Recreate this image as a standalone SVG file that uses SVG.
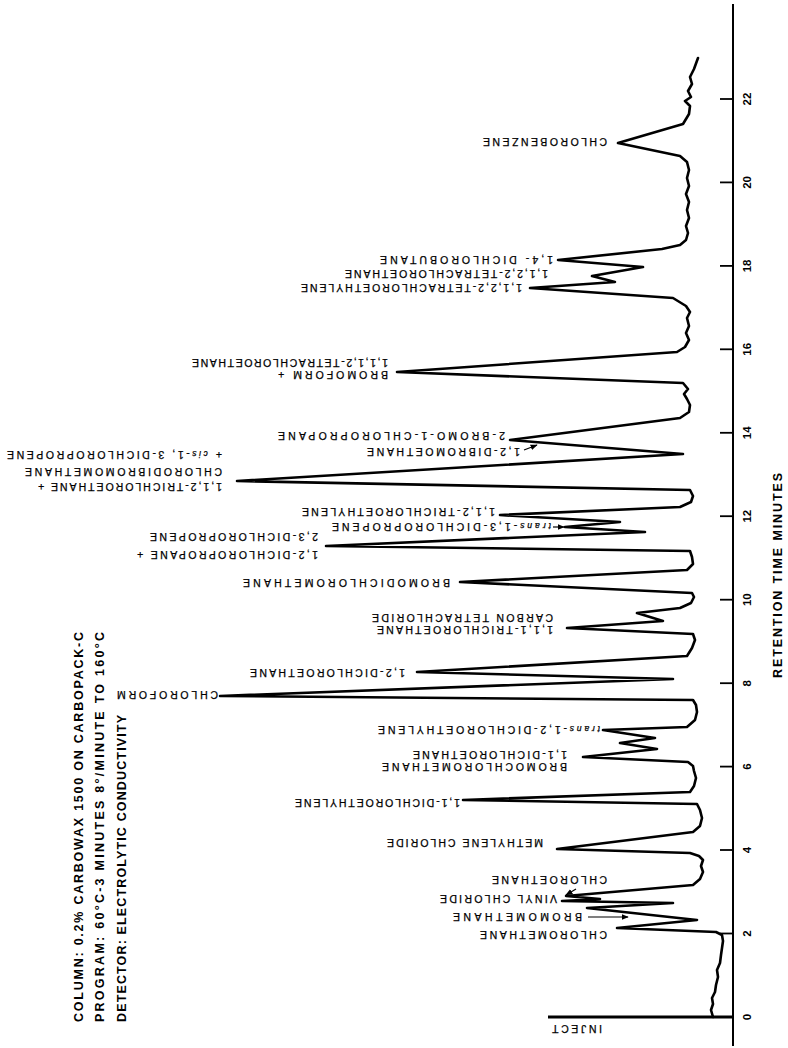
<svg xmlns="http://www.w3.org/2000/svg" width="788" height="1048" viewBox="0 0 788 1048">
  <style>
    .lb { font-family: "Liberation Sans", Arial, sans-serif; font-size: 10.5px; fill: #000; stroke: #000; stroke-width: 0.25px; }
    .it { font-style: italic; font-size: 8.5px; }
    .hd { font-family: "Liberation Sans", Arial, sans-serif; font-size: 12.5px; font-weight: bold; fill: #000; }
    .tk { font-family: "Liberation Sans", Arial, sans-serif; font-size: 11.5px; font-weight: bold; fill: #000; text-anchor: middle; }
    .ax { stroke: #000; stroke-width: 2; fill: none; }
    .tick { stroke: #000; stroke-width: 1.8; }
    .trace { stroke: #000; stroke-width: 2.6; fill: none; stroke-linejoin: round; stroke-linecap: round; }
    .lead { stroke: #000; stroke-width: 1.2; fill: none; }
  </style>
  <defs>
    <marker id="ah" viewBox="0 0 10 10" refX="9" refY="5" markerWidth="6" markerHeight="6" orient="auto">
      <path d="M0,1 L10,5 L0,9 Z" fill="#000"/>
    </marker>
  </defs>
  <rect width="788" height="1048" fill="#fff"/>

  <!-- conditions block, printed sideways -->
  <g id="conditions">
    <text class="hd" transform="translate(83,1022) rotate(-90)" textLength="390" lengthAdjust="spacing">COLUMN: 0.2% CARBOWAX 1500  ON CARBOPACK-C</text>
    <text class="hd" transform="translate(104,1022) rotate(-90)" textLength="390" lengthAdjust="spacing">PROGRAM:  60°C-3 MINUTES 8°/MINUTE TO 160°C</text>
    <text class="hd" transform="translate(126,1022) rotate(-90)" textLength="307" lengthAdjust="spacing">DETECTOR:  ELECTROLYTIC CONDUCTIVITY</text>
  </g>

  <!-- time axis -->
  <g id="axis">
    <line class="ax" x1="733" y1="4" x2="733" y2="1046"/>
    <line class="tick" x1="720" y1="1017" x2="733" y2="1017"/>
    <line class="tick" x1="720" y1="933.5" x2="733" y2="933.5"/>
    <line class="tick" x1="720" y1="850" x2="733" y2="850"/>
    <line class="tick" x1="720" y1="766.6" x2="733" y2="766.6"/>
    <line class="tick" x1="720" y1="683.2" x2="733" y2="683.2"/>
    <line class="tick" x1="720" y1="599.7" x2="733" y2="599.7"/>
    <line class="tick" x1="720" y1="516.2" x2="733" y2="516.2"/>
    <line class="tick" x1="720" y1="432.8" x2="733" y2="432.8"/>
    <line class="tick" x1="720" y1="349.3" x2="733" y2="349.3"/>
    <line class="tick" x1="720" y1="265.9" x2="733" y2="265.9"/>
    <line class="tick" x1="720" y1="182.4" x2="733" y2="182.4"/>
    <line class="tick" x1="720" y1="99" x2="733" y2="99"/>
    <text class="tk" transform="translate(751,1017) rotate(-90)">0</text>
    <text class="tk" transform="translate(751,933.5) rotate(-90)">2</text>
    <text class="tk" transform="translate(751,850) rotate(-90)">4</text>
    <text class="tk" transform="translate(751,766.6) rotate(-90)">6</text>
    <text class="tk" transform="translate(751,683.2) rotate(-90)">8</text>
    <text class="tk" transform="translate(751,599.7) rotate(-90)">10</text>
    <text class="tk" transform="translate(751,516.2) rotate(-90)">12</text>
    <text class="tk" transform="translate(751,432.8) rotate(-90)">14</text>
    <text class="tk" transform="translate(751,349.3) rotate(-90)">16</text>
    <text class="tk" transform="translate(751,265.9) rotate(-90)">18</text>
    <text class="tk" transform="translate(751,182.4) rotate(-90)">20</text>
    <text class="tk" transform="translate(751,99) rotate(-90)">22</text>
    <text class="hd" transform="translate(782,678) rotate(-90)" textLength="205" lengthAdjust="spacing">RETENTION TIME  MINUTES</text>
  </g>

  <!-- injection marker -->
  <g id="inject">
    <line x1="548" y1="1017" x2="733" y2="1017" stroke="#000" stroke-width="3"/>
    <text class="lb" transform="translate(602,1024.5) rotate(180)" textLength="50" lengthAdjust="spacing">INJECT</text>
  </g>

  <!-- detector trace -->
  <g id="trace">
    <path class="trace" d="M713,1017 L711,1010 L713,1004 L712,998 L715,992 L716,985 L718,977 L717,970 L720,963 L721,955 L722,948 L723,941 L722,935 L716,932
      L617,928 L697,920 L587,908 L673,903 L562,901 L600,899 L566,896 L693,885
      L700,879 L703,872 L701,866 L703,860 L699,856 L690,853
      L557,849 L693,832 L700,826 L702,818 L700,810 L697,804
      L463,800 L690,792 L694,786 L696,778 L694,771 L693,766 L688,762
      L583,757 L657,749 L620,743 L655,738 L603,730 L687,727 L695,720 L697,712 L696,705 L693,700
      L220,696 L673,679 L417,672 L687,656 L692,648 L695,640 L693,634
      L567,628 L663,621 L637,613 L680,608 L691,603 L694,597 L692,593
      L460,582 L687,570 L693,564 L692,557 L690,551
      L326,546 L645,532 L565,527 L620,522 L500,515 L680,507 L691,502 L693,496 L690,490
      L237,481 L683,454 L510,440 L680,418 L689,412 L690,405 L687,399 L684,394 L688,389 L683,383
      L397,372 L677,352 L685,347 L689,340 L686,333 L689,326 L687,318 L690,312 L686,306 L673,298
      L530,288 L615,282 L592,276 L643,267 L558,260 L662,249 L680,245 L686,240 L688,233 L686,226 L689,218 L687,210 L689,202 L686,194 L689,186 L687,178 L689,170 L687,162 L680,156
      L618,143 L683,124 L689,114 L690,106 L685,101 L691,97 L688,91 L692,84 L690,77 L694,69 L698,58"/>
  </g>

  <!-- leader arrows -->
  <g id="connectors">
    <line class="lead" x1="588" y1="917" x2="628" y2="917" marker-end="url(#ah)"/>
    <line class="lead" x1="576" y1="889" x2="566" y2="895" marker-end="url(#ah)"/>
    <line class="lead" x1="524" y1="450" x2="537" y2="445" marker-end="url(#ah)"/>
    <line class="lead" x1="553" y1="527" x2="564" y2="527" marker-end="url(#ah)"/>
  </g>

  <!-- compound labels (printed upside down) -->
  <g id="lbl-chlorobenzene"><text class="lb" transform="translate(607,138.3) rotate(180)" textLength="124" lengthAdjust="spacing">CHLOROBENZENE</text></g>
  <g id="lbl-dichlorobutane"><text class="lb" transform="translate(553,256.3) rotate(180)" textLength="173" lengthAdjust="spacing">1,4- DICHLOROBUTANE</text></g>
  <g id="lbl-tetrachloroethane"><text class="lb" transform="translate(548,270.3) rotate(180)" textLength="203" lengthAdjust="spacing">1,1,2,2-TETRACHLOROETHANE</text></g>
  <g id="lbl-tetrachloroethylene"><text class="lb" transform="translate(522,284.3) rotate(180)" textLength="221" lengthAdjust="spacing">1,1,2,2-TETRACHLOROETHYLENE</text></g>
  <g id="lbl-bromoform">
    <text class="lb" transform="translate(388,371.3) rotate(180)" textLength="110" lengthAdjust="spacing">BROMOFORM +</text>
    <text class="lb" transform="translate(388,359.3) rotate(180)" textLength="196" lengthAdjust="spacing">1,1,1,2-TETRACHLOROETHANE</text>
  </g>
  <g id="lbl-bromochloropropane"><text class="lb" transform="translate(505,432.3) rotate(180)" textLength="227" lengthAdjust="spacing">2-BROMO-1-CHLOROPROPANE</text></g>
  <g id="lbl-dibromoethane"><text class="lb" transform="translate(520,448.3) rotate(180)" textLength="153" lengthAdjust="spacing">1,2-DIBROMOETHANE</text></g>
  <g id="lbl-trichloroethane">
    <text class="lb" transform="translate(222,483.3) rotate(180)" textLength="184" lengthAdjust="spacing">1,1,2-TRICHLOROETHANE +</text>
    <text class="lb" transform="translate(222,468.3) rotate(180)" textLength="197" lengthAdjust="spacing">CHLORODIBROMOMETHANE</text>
    <text class="lb" transform="translate(222,451.3) rotate(180)" textLength="215" lengthAdjust="spacing">+ <tspan class="it">cis</tspan>-1, 3-DICHLOROPROPENE</text>
  </g>
  <g id="lbl-trichloroethylene"><text class="lb" transform="translate(495,508.3) rotate(180)" textLength="193" lengthAdjust="spacing">1,1,2-TRICHLOROETHYLENE</text></g>
  <g id="lbl-trans-dichloropropene"><text class="lb" transform="translate(551,523.3) rotate(180)" textLength="219" lengthAdjust="spacing"><tspan class="it">trans</tspan>-1,3-DICHLOROPROPENE</text></g>
  <g id="lbl-dichloropropane">
    <text class="lb" transform="translate(318,551.3) rotate(180)" textLength="181" lengthAdjust="spacing">1,2-DICHLOROPROPANE +</text>
    <text class="lb" transform="translate(318,533.3) rotate(180)" textLength="168" lengthAdjust="spacing">2,3-DICHLOROPROPENE</text>
  </g>
  <g id="lbl-bromodichloromethane"><text class="lb" transform="translate(450,579.3) rotate(180)" textLength="207" lengthAdjust="spacing">BROMODICHLOROMETHANE</text></g>
  <g id="lbl-carbontet"><text class="lb" transform="translate(553,614.3) rotate(180)" textLength="181" lengthAdjust="spacing">CARBON TETRACHLORIDE</text></g>
  <g id="lbl-111-trichloroethane"><text class="lb" transform="translate(553,626.3) rotate(180)" textLength="176" lengthAdjust="spacing">1,1,1-TRICHLOROETHANE</text></g>
  <g id="lbl-12-dichloroethane"><text class="lb" transform="translate(405,669.3) rotate(180)" textLength="155" lengthAdjust="spacing">1,2-DICHLOROETHANE</text></g>
  <g id="lbl-chloroform"><text class="lb" transform="translate(218,691.3) rotate(180)" textLength="101" lengthAdjust="spacing">CHLOROFORM</text></g>
  <g id="lbl-trans-dichloroethylene"><text class="lb" transform="translate(600,726.3) rotate(180)" textLength="222" lengthAdjust="spacing"><tspan class="it">trans</tspan>-1,2-DICHLOROETHYLENE</text></g>
  <g id="lbl-11-dichloroethane"><text class="lb" transform="translate(567,751.3) rotate(180)" textLength="154" lengthAdjust="spacing">1,1-DICHLOROETHANE</text></g>
  <g id="lbl-bromochloromethane"><text class="lb" transform="translate(567,763.3) rotate(180)" textLength="185" lengthAdjust="spacing">BROMOCHLOROMETHANE</text></g>
  <g id="lbl-11-dichloroethylene"><text class="lb" transform="translate(460,799.3) rotate(180)" textLength="165" lengthAdjust="spacing">1,1-DICHLOROETHYLENE</text></g>
  <g id="lbl-methylene-chloride"><text class="lb" transform="translate(543,839.3) rotate(180)" textLength="156" lengthAdjust="spacing">METHYLENE CHLORIDE</text></g>
  <g id="lbl-chloroethane"><text class="lb" transform="translate(607,876.3) rotate(180)" textLength="115" lengthAdjust="spacing">CHLOROETHANE</text></g>
  <g id="lbl-vinyl-chloride"><text class="lb" transform="translate(557,895.3) rotate(180)" textLength="117" lengthAdjust="spacing">VINYL CHLORIDE</text></g>
  <g id="lbl-bromomethane"><text class="lb" transform="translate(582,913.3) rotate(180)" textLength="129" lengthAdjust="spacing">BROMOMETHANE</text></g>
  <g id="lbl-chloromethane"><text class="lb" transform="translate(607,931.3) rotate(180)" textLength="127" lengthAdjust="spacing">CHLOROMETHANE</text></g>
</svg>
